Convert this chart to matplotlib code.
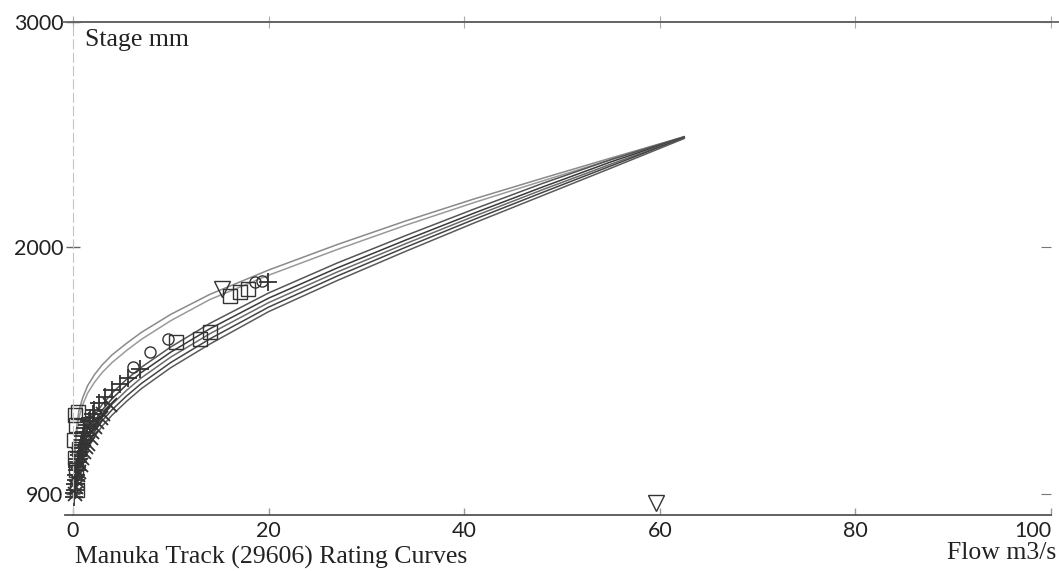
import matplotlib
matplotlib.use("Agg")
import matplotlib.pyplot as plt

flow_grid = [0.1, 0.3, 0.6, 1, 1.5, 2.2, 3, 4, 5.5, 7, 10, 14, 20, 27, 34, 41, 48, 55, 62.5]

# stage (mm) of each rating curve at flow_grid
curve_a = [1010, 1170, 1270, 1330, 1383, 1432, 1476, 1520, 1572, 1620, 1700, 1789, 1897, 2010, 2115, 2213, 2305, 2395, 2490]
curve_b = [990, 1140, 1238, 1298, 1350, 1398, 1442, 1486, 1540, 1589, 1672, 1766, 1874, 1988, 2096, 2197, 2293, 2388, 2488]
curve_c = [920, 990, 1062, 1130, 1190, 1250, 1300, 1350, 1412, 1465, 1555, 1660, 1795, 1928, 2050, 2168, 2282, 2388, 2490]
curve_d = [911, 975, 1042, 1106, 1165, 1224, 1275, 1325, 1388, 1442, 1532, 1636, 1772, 1906, 2030, 2150, 2266, 2378, 2487]
curve_e = [902, 962, 1025, 1086, 1142, 1200, 1250, 1300, 1363, 1418, 1510, 1614, 1752, 1888, 2014, 2136, 2254, 2368, 2486]
curve_f = [893, 950, 1010, 1068, 1122, 1178, 1227, 1276, 1338, 1393, 1486, 1591, 1732, 1870, 1998, 2122, 2242, 2360, 2486]
curve_g = [884, 938, 995, 1050, 1102, 1156, 1204, 1252, 1314, 1370, 1463, 1568, 1712, 1850, 1980, 2106, 2228, 2350, 2482]

# gaugings
plus_flow = [0.1, 0.15, 0.2, 0.25, 0.3, 0.35, 0.4, 0.45, 0.5, 0.55, 0.6, 0.65, 0.7, 0.8, 0.9,
             1.0, 1.1, 1.2, 1.4, 1.6, 1.7, 2.0, 2.1, 2.7, 3.3, 4.0, 4.8, 5.6, 6.9, 19.9]
plus_stage = [889, 905, 920, 945, 964, 985, 1008, 1020, 1044, 1055, 1076, 1090, 1107, 1120, 1142,
              1160, 1178, 1195, 1209, 1225, 1240, 1255, 1276, 1307, 1334, 1365, 1392, 1419, 1455, 1843]

cross_flow = [0.2, 0.3, 0.4, 0.5, 0.6, 0.8, 0.9, 1.1, 1.3, 1.5, 1.8, 1.9, 2.3, 2.5, 2.9, 3.1, 3.8]
cross_stage = [900, 933, 960, 986, 1000, 1031, 1060, 1089, 1110, 1124, 1150, 1178, 1200, 1223, 1240, 1258, 1299]

square_flow = [0.2, 0.3, 0.1, 0.5, 0.3, 0.4, 0.6, 0.2, 10.5, 13.0, 14.0, 16.1, 17.1, 17.9]
square_stage = [1254, 1209, 1142, 1267, 1008, 920, 1100, 1060, 1575, 1589, 1620, 1781, 1798, 1812]

circle_flow = [6.1, 7.9, 9.7, 18.6, 19.3]
circle_stage = [1464, 1531, 1589, 1843, 1848]

tri_flow = [15.2, 59.6]
tri_stage = [1812, 861]

x_ticks = [0, 20, 40, 60, 80, 100]
y_ticks = [900, 2000, 3000]

curves = [curve_a, curve_b, curve_c, curve_d, curve_e, curve_f, curve_g]
curve_colors = ["#8a8a8a", "#9a9a9a", "#555555", "#3a3a3a", "#6a6a6a", "#444444", "#5a5a5a"]

fig = plt.figure(figsize=(10.59, 5.71), dpi=100)
ax = fig.add_axes([0.0689, 0.0981, 0.9235, 0.8634])

for stage, col in zip(curves, curve_colors):
    ax.plot(flow_grid, stage, color=col, lw=1.1)

mk = dict(ls="none", color="#333333", mfc="none", clip_on=False)
ax.plot(plus_flow, plus_stage, marker="+", ms=13, mew=1.3, **mk)
ax.plot(cross_flow, cross_stage, marker="x", ms=10, mew=1.3, **mk)
ax.plot(square_flow, square_stage, marker="s", ms=10, mew=1.0, **mk)
ax.plot(circle_flow, circle_stage, marker="o", ms=8, mew=1.0, **mk)
ax.plot(tri_flow, tri_stage, marker="v", ms=12, mew=1.0, **mk)

ax.set_xlim(0, 100)
ax.set_ylim(808, 3000)
ax.set_xticks(x_ticks)
ax.set_yticks(y_ticks)

ax.spines["right"].set_visible(False)
ax.spines["left"].set_color("#c4c4c4")
ax.spines["left"].set_linestyle((0, (8, 4)))
ax.spines["bottom"].set_color("#555555")
ax.spines["bottom"].set_linewidth(1.3)
ax.spines["top"].set_color("#666666")
ax.spines["top"].set_linewidth(1.3)
# the top rule runs a little past the plot on both sides
ax.plot([-0.01, 1.01], [1, 1], transform=ax.transAxes, color="#666666", lw=1.3, clip_on=False)
ax.plot([-0.008, 0], [0, 0], transform=ax.transAxes, color="#555555", lw=1.3, clip_on=False)

ax.tick_params(axis="y", direction="inout", length=10, width=1.0, color="#666666",
               labelsize=15.5, pad=2, labelcolor="#222222")
ax.tick_params(axis="x", direction="in", length=5, width=1.0, color="#999999",
               labelsize=15.5, pad=4, labelcolor="#222222")
for lab in ax.get_xticklabels() + ax.get_yticklabels():
    lab.set_family(["Lato", "DejaVu Sans"])
ax.get_xticklabels()[-1].set_ha("right")

right = ax.secondary_yaxis("right")
right.set_yticks(y_ticks)
right.tick_params(direction="in", length=7, color="#777777", labelright=False)
right.spines["right"].set_visible(False)

top = ax.secondary_xaxis("top")
top.set_xticks(x_ticks)
top.tick_params(direction="inout", length=8, color="#aaaaaa", labeltop=False)
top.spines["top"].set_visible(False)

serif = ["Liberation Serif", "DejaVu Serif"]
ax.text(0.0123, 0.963, "Stage mm", transform=ax.transAxes, fontsize=18.5,
        family=serif, va="center", ha="left", color="#222222")
fig.text(75 / 1059, 1 - 557 / 571, "Manuka Track (29606) Rating Curves", fontsize=18.5,
         family=serif, va="center", ha="left", color="#222222")
fig.text(1056 / 1059, 1 - 553 / 571, "Flow m3/s", fontsize=18.5,
         family=serif, va="center", ha="right", color="#222222")

fig.savefig("out.png", dpi=100, facecolor="white")
